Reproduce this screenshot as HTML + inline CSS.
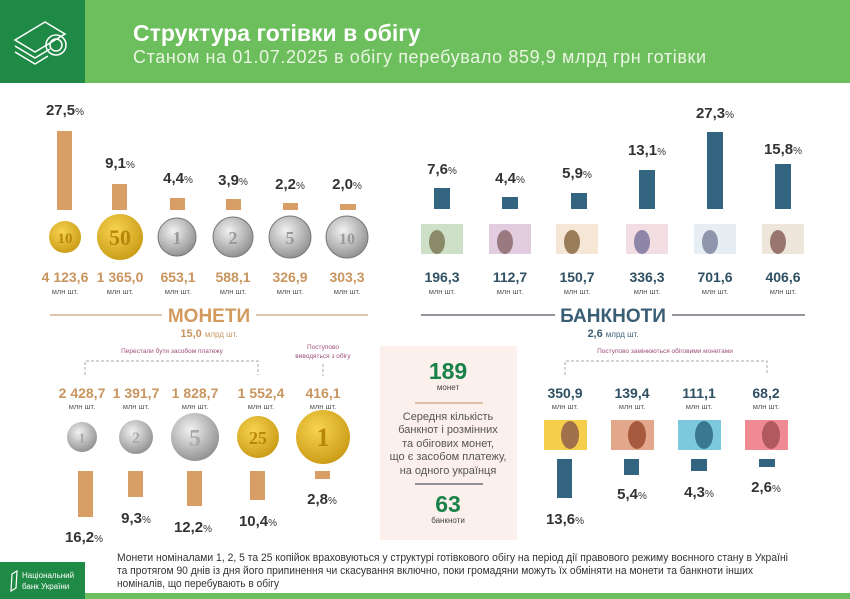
<!DOCTYPE html>
<html><head><meta charset="utf-8"><style>
html,body{margin:0;padding:0;background:#fff}
svg{display:block;font-family:"Liberation Sans",sans-serif}
</style></head><body>
<svg width="850" height="599" viewBox="0 0 850 599" xmlns="http://www.w3.org/2000/svg">
<defs>
<radialGradient id="gold" cx="40%" cy="35%" r="70%"><stop offset="0" stop-color="#f7d451"/><stop offset="1" stop-color="#c99a14"/></radialGradient>
<radialGradient id="silv" cx="40%" cy="35%" r="70%"><stop offset="0" stop-color="#f2f2f2"/><stop offset="1" stop-color="#8d8d8d"/></radialGradient>
</defs>
<rect x="0" y="0" width="850" height="83" fill="#6cbf5c"/>
<rect x="0" y="0" width="85" height="83" fill="#1f8a45"/>
<g fill="none" stroke="#fff" stroke-width="1.5">
<path d="M15 40 L45 22 L65 34 L35 52 Z"/><path d="M15 46 L35 58 L50 49"/><path d="M15 52 L35 64 L48 56"/>
<circle cx="56" cy="45" r="10"/><circle cx="56" cy="45" r="6"/>
</g>
<text x="133" y="41" font-size="23" font-weight="bold" fill="#fff">Структура готівки в обігу</text>
<text x="133" y="63" font-size="18" fill="#eaf5e2" textLength="573">Станом на 01.07.2025  в обігу перебувало 859,9 млрд грн готівки</text>

<g font-weight="bold" font-size="15" fill="#333" text-anchor="middle">
<text x="65" y="115">27,5<tspan font-size="10" font-weight="normal">%</tspan></text>
<text x="120" y="168">9,1<tspan font-size="10" font-weight="normal">%</tspan></text>
<text x="178" y="183">4,4<tspan font-size="10" font-weight="normal">%</tspan></text>
<text x="233" y="185">3,9<tspan font-size="10" font-weight="normal">%</tspan></text>
<text x="290" y="189">2,2<tspan font-size="10" font-weight="normal">%</tspan></text>
<text x="347" y="189">2,0<tspan font-size="10" font-weight="normal">%</tspan></text>
<text x="442" y="174">7,6<tspan font-size="10" font-weight="normal">%</tspan></text>
<text x="510" y="183">4,4<tspan font-size="10" font-weight="normal">%</tspan></text>
<text x="577" y="178">5,9<tspan font-size="10" font-weight="normal">%</tspan></text>
<text x="647" y="155">13,1<tspan font-size="10" font-weight="normal">%</tspan></text>
<text x="715" y="118">27,3<tspan font-size="10" font-weight="normal">%</tspan></text>
<text x="783" y="154">15,8<tspan font-size="10" font-weight="normal">%</tspan></text>
<text x="84" y="542">16,2<tspan font-size="10" font-weight="normal">%</tspan></text>
<text x="136" y="523">9,3<tspan font-size="10" font-weight="normal">%</tspan></text>
<text x="193" y="532">12,2<tspan font-size="10" font-weight="normal">%</tspan></text>
<text x="258" y="526">10,4<tspan font-size="10" font-weight="normal">%</tspan></text>
<text x="322" y="504">2,8<tspan font-size="10" font-weight="normal">%</tspan></text>
<text x="565" y="524">13,6<tspan font-size="10" font-weight="normal">%</tspan></text>
<text x="632" y="499">5,4<tspan font-size="10" font-weight="normal">%</tspan></text>
<text x="699" y="497">4,3<tspan font-size="10" font-weight="normal">%</tspan></text>
<text x="766" y="492">2,6<tspan font-size="10" font-weight="normal">%</tspan></text>
</g>

<g fill="#d89e66">
<rect x="57" y="131" width="15" height="79"/><rect x="112" y="184" width="15" height="26"/>
<rect x="170" y="198" width="15" height="12"/><rect x="226" y="199" width="15" height="11"/>
<rect x="283" y="203" width="15" height="7"/><rect x="340" y="204" width="16" height="6"/>
<rect x="78" y="471" width="15" height="46"/><rect x="128" y="471" width="15" height="26"/>
<rect x="187" y="471" width="15" height="35"/><rect x="250" y="471" width="15" height="29"/>
<rect x="315" y="471" width="15" height="8"/>
</g>
<g fill="#346580">
<rect x="434" y="188" width="16" height="21"/><rect x="502" y="197" width="16" height="12"/>
<rect x="571" y="193" width="16" height="16"/><rect x="639" y="170" width="16" height="39"/>
<rect x="707" y="132" width="16" height="77"/><rect x="775" y="164" width="16" height="45"/>
<rect x="557" y="459" width="15" height="39"/><rect x="624" y="459" width="15" height="16"/>
<rect x="691" y="459" width="16" height="12"/><rect x="759" y="459" width="16" height="8"/>
</g>

<g text-anchor="middle" font-weight="bold" font-family="Liberation Serif,serif">
<circle cx="65" cy="237" r="16" fill="url(#gold)"/><text x="65" y="243" font-size="15" fill="#b8860b">10</text>
<circle cx="120" cy="237" r="23" fill="url(#gold)"/><text x="120" y="245" font-size="22" fill="#b8860b">50</text>
<circle cx="177" cy="237" r="19" fill="url(#silv)" stroke="#777"/><text x="177" y="244" font-size="18" fill="#999">1</text>
<circle cx="233" cy="237" r="20" fill="url(#silv)" stroke="#777"/><text x="233" y="244" font-size="18" fill="#999">2</text>
<circle cx="290" cy="237" r="21" fill="url(#silv)" stroke="#777"/><text x="290" y="244" font-size="18" fill="#999">5</text>
<circle cx="347" cy="237" r="21" fill="url(#silv)" stroke="#777"/><text x="347" y="244" font-size="16" fill="#999">10</text>
<circle cx="82" cy="437" r="15" fill="url(#silv)"/><text x="82" y="443" font-size="15" fill="#aaa">1</text>
<circle cx="136" cy="437" r="17" fill="url(#silv)"/><text x="136" y="443" font-size="16" fill="#aaa">2</text>
<circle cx="195" cy="437" r="24" fill="url(#silv)"/><text x="195" y="446" font-size="24" fill="#aaa">5</text>
<circle cx="258" cy="437" r="21" fill="url(#gold)"/><text x="258" y="444" font-size="18" fill="#b8860b">25</text>
<circle cx="323" cy="437" r="27" fill="url(#gold)"/><text x="323" y="446" font-size="26" fill="#b8860b">1</text>
</g>

<g>
<rect x="421" y="224" width="42" height="30" fill="#cfe0c8"/><ellipse cx="437" cy="242" rx="8" ry="12" fill="#8a8a6a"/>
<rect x="489" y="224" width="42" height="30" fill="#e2cde0"/><ellipse cx="505" cy="242" rx="8" ry="12" fill="#9a7a80"/>
<rect x="556" y="224" width="42" height="30" fill="#f6e6d6"/><ellipse cx="572" cy="242" rx="8" ry="12" fill="#9a7e5a"/>
<rect x="626" y="224" width="42" height="30" fill="#f2dde2"/><ellipse cx="642" cy="242" rx="8" ry="12" fill="#8e86a8"/>
<rect x="694" y="224" width="42" height="30" fill="#e6eef4"/><ellipse cx="710" cy="242" rx="8" ry="12" fill="#8d96aa"/>
<rect x="762" y="224" width="42" height="30" fill="#eee6da"/><ellipse cx="778" cy="242" rx="8" ry="12" fill="#9a7670"/>
<rect x="544" y="420" width="43" height="30" fill="#f5cf4c"/><ellipse cx="570" cy="435" rx="9" ry="14" fill="#a0704a"/>
<rect x="611" y="420" width="43" height="30" fill="#e3a88c"/><ellipse cx="637" cy="435" rx="9" ry="14" fill="#a85a3e"/>
<rect x="678" y="420" width="43" height="30" fill="#7cc8dc"/><ellipse cx="704" cy="435" rx="9" ry="14" fill="#3a7890"/>
<rect x="745" y="420" width="43" height="30" fill="#f08a92"/><ellipse cx="771" cy="435" rx="9" ry="14" fill="#b05a60"/>
</g>

<g text-anchor="middle">
<g font-size="14" font-weight="bold" fill="#c9955f">
<text x="65" y="282">4 123,6</text><text x="120" y="282">1 365,0</text><text x="178" y="282">653,1</text>
<text x="233" y="282">588,1</text><text x="290" y="282">326,9</text><text x="347" y="282">303,3</text>
<text x="82" y="398">2 428,7</text><text x="136" y="398">1 391,7</text><text x="195" y="398">1 828,7</text>
<text x="261" y="398">1 552,4</text><text x="323" y="398">416,1</text>
</g>
<g font-size="14" font-weight="bold" fill="#2f4f63">
<text x="442" y="282">196,3</text><text x="510" y="282">112,7</text><text x="577" y="282">150,7</text>
<text x="647" y="282">336,3</text><text x="715" y="282">701,6</text><text x="783" y="282">406,6</text>
<text x="565" y="398">350,9</text><text x="632" y="398">139,4</text><text x="699" y="398">111,1</text><text x="766" y="398">68,2</text>
</g>
<g font-size="7.5" fill="#555">
<text x="65" y="294">млн шт.</text><text x="120" y="294">млн шт.</text><text x="178" y="294">млн шт.</text>
<text x="233" y="294">млн шт.</text><text x="290" y="294">млн шт.</text><text x="347" y="294">млн шт.</text>
<text x="442" y="294">млн шт.</text><text x="510" y="294">млн шт.</text><text x="577" y="294">млн шт.</text>
<text x="647" y="294">млн шт.</text><text x="715" y="294">млн шт.</text><text x="783" y="294">млн шт.</text>
<text x="82" y="409">млн шт.</text><text x="136" y="409">млн шт.</text><text x="195" y="409">млн шт.</text>
<text x="261" y="409">млн шт.</text><text x="323" y="409">млн шт.</text>
<text x="565" y="409">млн шт.</text><text x="632" y="409">млн шт.</text><text x="699" y="409">млн шт.</text><text x="766" y="409">млн шт.</text>
</g>
</g>

<line x1="50" y1="315" x2="162" y2="315" stroke="#c9a57a" stroke-width="1.2"/>
<line x1="256" y1="315" x2="368" y2="315" stroke="#c9a57a" stroke-width="1.2"/>
<text x="209" y="322" text-anchor="middle" font-size="19" font-weight="bold" fill="#d39a5e">МОНЕТИ</text>
<text x="209" y="337" text-anchor="middle" font-size="11" font-weight="bold" fill="#c9955f">15,0 <tspan font-size="8" font-weight="normal">млрд шт.</tspan></text>
<line x1="421" y1="315" x2="555" y2="315" stroke="#556" stroke-width="1.2"/>
<line x1="672" y1="315" x2="805" y2="315" stroke="#556" stroke-width="1.2"/>
<text x="613" y="322" text-anchor="middle" font-size="19" font-weight="bold" fill="#3a5f75">БАНКНОТИ</text>
<text x="613" y="337" text-anchor="middle" font-size="11" font-weight="bold" fill="#3a5f75">2,6 <tspan font-size="8" font-weight="normal">млрд шт.</tspan></text>

<g text-anchor="middle" font-size="6.5" fill="#a0507a">
<text x="172" y="353">Перестали бути засобом платежу</text>
<text x="323" y="349">Поступово</text><text x="323" y="358">виводяться з обігу</text>
<text x="665" y="353">Поступово замінюються обіговими монетами</text>
</g>
<g stroke="#aaa" stroke-dasharray="3,2" fill="none">
<path d="M85 375 V361 H258 V375"/><path d="M323 364 V376"/><path d="M565 375 V361 H767 V375"/>
</g>

<rect x="380" y="346" width="137" height="194" fill="#fbf0ec"/>
<g text-anchor="middle">
<text x="448" y="379" font-size="23" font-weight="bold" fill="#1a8248">189</text>
<text x="448" y="390" font-size="8" fill="#444">монет</text>
<line x1="415" y1="403" x2="483" y2="403" stroke="#c9a57a" stroke-width="1.2"/>
<g font-size="11" fill="#555">
<text x="448" y="420">Середня кількість</text><text x="448" y="433">банкнот і розмінних</text>
<text x="448" y="447">та обігових монет,</text><text x="448" y="460">що є засобом платежу,</text>
<text x="448" y="474">на одного українця</text>
</g>
<line x1="415" y1="484" x2="483" y2="484" stroke="#556" stroke-width="1.2"/>
<text x="448" y="512" font-size="23" font-weight="bold" fill="#1a8248">63</text>
<text x="448" y="523" font-size="8" fill="#444">банкноти</text>
</g>

<g font-size="11" fill="#333">
<text x="117" y="561" textLength="671" lengthAdjust="spacingAndGlyphs">Монети номіналами 1, 2, 5 та 25 копійок враховуються у структурі готівкового обігу на період дії правового режиму воєнного стану в Україні</text>
<text x="117" y="574" textLength="636" lengthAdjust="spacingAndGlyphs">та протягом 90 днів із дня його припинення чи скасування включно, поки громадяни можуть їх обміняти на  монети та  банкноти інших</text>
<text x="117" y="587" textLength="162" lengthAdjust="spacingAndGlyphs">номіналів, що перебувають в обігу</text>
</g>
<rect x="0" y="562" width="85" height="37" fill="#1f8a45"/>
<path d="M12 574 L17 571 L16 588 L11 591 Z" fill="none" stroke="#fff" stroke-width="1.2"/>
<text x="22" y="578" font-size="8" fill="#fff">Національний</text>
<text x="22" y="589" font-size="8" fill="#fff">банк України</text>
<rect x="85" y="593" width="765" height="6" fill="#6cbf5c"/>
</svg>
</body></html>
